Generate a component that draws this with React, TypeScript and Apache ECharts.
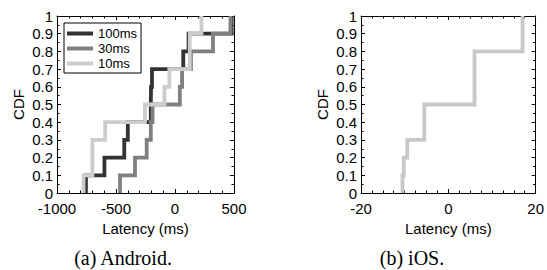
import React, { useEffect, useRef } from "react";
import * as echarts from "echarts";

// Sorted latency samples (ms), each step of the CDF = 1/n
const seriesNames = ["100ms", "30ms", "10ms"];
const samples100 = [-755, -598, -430, -400, -205, -203, -195, 70, 115, 480];
const samples30 = [-466, -339, -240, -205, -190, 41, 60, 135, 322, 470];
const samples10 = [-775, -700, -700, -592, -255, -90, -48, 125, 125, 224];
const samplesIOS = [-10.5, -10.2, -9.4, -5.5, -5.5, 6, 6, 6, 17, 17];
const seriesColors = ["#333333", "#808080", "#cccccc"];
const iosColor = "#c8c8c8";
const captions = ["(a) Android.", "(b) iOS."];

function cdfPoints(s: number[]): number[][] {
  const n = s.length;
  const out: number[][] = [];
  s.forEach((v, i) => {
    out.push([v, i / n]);
    out.push([v, (i + 1) / n]);
  });
  return out;
}

const SANS = "'Liberation Sans', Arial, Helvetica, sans-serif";
const SERIF = "'Liberation Serif', 'Times New Roman', serif";

function xAxes(gridIndex: number, min: number, max: number, interval: number, minorSplit: number) {
  const common = {
    gridIndex,
    type: "value",
    min,
    max,
    interval,
    axisLine: { show: true, onZero: false, lineStyle: { color: "#000", width: 1 } },
    axisTick: { show: true, inside: true, length: 4, lineStyle: { color: "#000" } },
    minorTick: { show: true, splitNumber: minorSplit, length: 2.5, lineStyle: { color: "#000" } },
    splitLine: { show: false },
    minorSplitLine: { show: false },
  };
  return [
    {
      ...common,
      position: "bottom",
      axisLabel: {
        show: true,
        color: "#000",
        fontSize: 15,
        fontFamily: SANS,
        margin: 8,
        formatter: (v: number) => String(v),
      },
      name: "Latency (ms)",
      nameLocation: "middle",
      nameGap: 25,
      nameTextStyle: { color: "#000", fontSize: 15, fontFamily: SANS },
    },
    { ...common, position: "top", axisLabel: { show: false } },
  ];
}

function yAxes(gridIndex: number) {
  const common = {
    gridIndex,
    type: "value",
    min: 0,
    max: 1,
    interval: 0.1,
    axisLine: { show: true, onZero: false, lineStyle: { color: "#000", width: 1 } },
    axisTick: { show: true, inside: true, length: 4, lineStyle: { color: "#000" } },
    minorTick: { show: true, splitNumber: 2, length: 2.5, lineStyle: { color: "#000" } },
    splitLine: { show: false },
    minorSplitLine: { show: false },
  };
  return [
    {
      ...common,
      position: "left",
      axisLabel: {
        show: true,
        color: "#000",
        fontSize: 15,
        fontFamily: SANS,
        margin: 4,
        formatter: (v: number) => String(Math.round(v * 10) / 10),
      },
      name: "CDF",
      nameLocation: "middle",
      nameGap: 31,
      nameTextStyle: { color: "#000", fontSize: 15, fontFamily: SANS },
    },
    { ...common, position: "right", axisLabel: { show: false } },
  ];
}

export default function App() {
  const ref = useRef<HTMLDivElement>(null);
  useEffect(() => {
    if (!ref.current) return;
    const chart = echarts.init(ref.current, null, { renderer: "svg" });
    const androidSamples = [samples100, samples30, samples10];
    const option: any = {
      animation: false,
      backgroundColor: "#fff",
      grid: [
        { left: 57, top: 16, width: 177, height: 177 },
        { left: 361, top: 16, width: 177, height: 177 },
      ],
      xAxis: [...xAxes(0, -1000, 500, 500, 5), ...xAxes(1, -20, 20, 20, 8)],
      yAxis: [...yAxes(0), ...yAxes(1)],
      legend: {
        data: seriesNames,
        orient: "vertical",
        left: 64,
        top: 23,
        itemWidth: 26,
        itemHeight: 4,
        itemGap: 0,
        icon: "rect",
        padding: [3, 4, 2, 3],
        borderColor: "#000",
        borderWidth: 1,
        backgroundColor: "#fff",
        textStyle: { color: "#000", fontSize: 13, fontFamily: SANS, lineHeight: 15 },
      },
      series: [
        ...androidSamples.map((s, i) => ({
          name: seriesNames[i],
          type: "line",
          xAxisIndex: 0,
          yAxisIndex: 0,
          data: cdfPoints(s),
          showSymbol: false,
          symbol: "none",
          color: seriesColors[i],
          lineStyle: { color: seriesColors[i], width: 3.8, join: "miter", cap: "butt" },
          z: 2 + i,
        })),
        {
          name: "iOS",
          type: "line",
          xAxisIndex: 2,
          yAxisIndex: 2,
          data: cdfPoints(samplesIOS),
          showSymbol: false,
          symbol: "none",
          color: iosColor,
          lineStyle: { color: iosColor, width: 3.8, join: "miter", cap: "butt" },
        },
      ],
      graphic: [
        {
          type: "text",
          x: 123,
          y: 258,
          style: {
            text: captions[0],
            font: `20px ${SERIF}`,
            fill: "#000",
            textAlign: "center",
            textVerticalAlign: "middle",
            align: "center",
            verticalAlign: "middle",
          },
        },
        {
          type: "text",
          x: 412,
          y: 258,
          style: {
            text: captions[1],
            font: `20px ${SERIF}`,
            fill: "#000",
            textAlign: "center",
            textVerticalAlign: "middle",
            align: "center",
            verticalAlign: "middle",
          },
        },
      ],
    };
    chart.setOption(option);
    return () => chart.dispose();
  }, []);
  return (
    <div
      ref={ref}
      style={{ position: "fixed", left: 0, top: 0, width: 547, height: 270, background: "#fff" }}
    />
  );
}
